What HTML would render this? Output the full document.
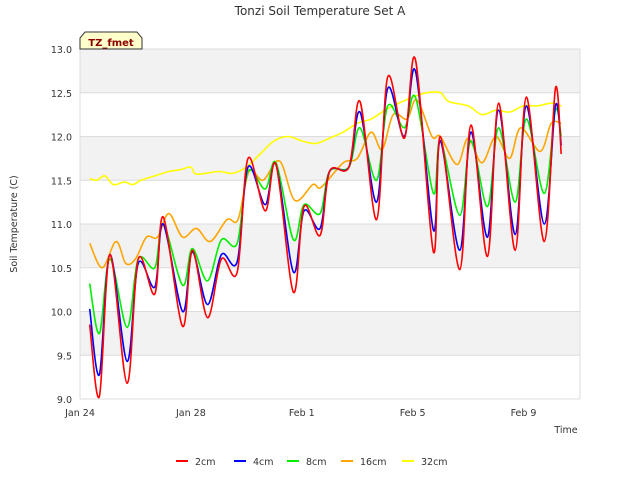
<!DOCTYPE html>
<html><head><meta charset="utf-8"><style>
body{margin:0;background:#fff;}
svg{display:block;font-family:"DejaVu Sans","Liberation Sans",sans-serif;}
</style></head><body>
<svg id="chart" width="640" height="480" viewBox="0 0 640 480">
<text x="320" y="15" text-anchor="middle" font-size="12" fill="#333">Tonzi Soil Temperature Set A</text>
<g id="bands"></g><g id="grid"></g><g id="ticks"></g><g id="lines"></g>
<path d="M80,49 L80,38 L85,32 L137,32 L142,38 L142,49 Z" fill="#ffffcc" stroke="#333" stroke-width="1"/>
<text x="111" y="46" text-anchor="middle" font-size="10" font-weight="bold" fill="#8b0000">TZ_fmet</text>
<text x="17" y="224" text-anchor="middle" font-size="9.5" fill="#333" transform="rotate(-90 17 224)">Soil Temperature (C)</text>
<text x="566" y="433" text-anchor="middle" font-size="9.5" fill="#333">Time</text>
<g id="legend"></g>
</svg>
<script>
const yTicks=[9.0,9.5,10.0,10.5,11.0,11.5,12.0,12.5,13.0];
const xTickDays=[0,4,8,12,16];
const xTickLabels=["Jan 24","Jan 28","Feb 1","Feb 5","Feb 9"];
const seriesNames=["2cm","4cm","8cm","16cm","32cm"];
const seriesColors=["#ff0000","#0000ff","#00ee00","#ffa500","#ffff00"];
const tShallow=[0.35,0.7,1.08,1.7,2.1,2.7,3.0,3.7,4.05,4.6,5.1,5.67,6.06,6.68,7.07,7.7,8.08,8.66,9.0,9.7,10.1,10.7,11.1,11.7,12.1,12.75,13.0,13.7,14.1,14.7,15.1,15.7,16.1,16.75,17.15,17.36];
const v2cm=[9.85,9.03,10.65,9.18,10.6,10.2,11.08,9.83,10.7,9.93,10.6,10.45,11.75,11.15,11.68,10.22,11.2,10.87,11.6,11.65,12.4,11.05,12.68,11.98,12.88,10.68,12.0,10.48,12.13,10.63,12.38,10.7,12.45,10.8,12.55,11.8];
const v4cm=[10.03,9.28,10.65,9.43,10.55,10.28,11.0,10.0,10.68,10.08,10.65,10.57,11.65,11.22,11.68,10.45,11.15,10.95,11.6,11.65,12.28,11.25,12.55,12.0,12.75,10.93,11.95,10.7,12.05,10.85,12.3,10.88,12.35,11.0,12.35,11.9];
const v8cm=[10.32,9.75,10.6,9.82,10.6,10.5,11.0,10.3,10.72,10.35,10.82,10.78,11.6,11.4,11.7,10.82,11.22,11.12,11.6,11.65,12.1,11.5,12.35,12.1,12.45,11.35,11.95,11.1,11.95,11.2,12.1,11.25,12.2,11.35,12.3,12.0];
const t16=[0.35,0.8,1.3,1.65,2.0,2.4,2.8,3.2,3.7,4.2,4.7,5.3,5.7,6.1,6.6,7.2,7.75,8.4,8.7,9.5,10.0,10.5,10.9,11.3,11.8,12.15,12.7,13.0,13.6,14.0,14.5,15.0,15.5,15.9,16.6,17.0,17.36];
const v16cm=[10.78,10.5,10.8,10.55,10.6,10.85,10.85,11.12,10.85,10.95,10.8,11.05,11.05,11.6,11.5,11.72,11.27,11.45,11.42,11.7,11.75,12.05,11.85,12.25,12.2,12.42,12.0,12.0,11.68,11.98,11.7,12.0,11.75,12.1,11.83,12.15,12.15];
const t32=[0.35,0.6,0.9,1.2,1.6,1.9,2.2,2.7,3.2,3.6,4.0,4.2,5.0,5.5,6.0,6.5,7.0,7.5,8.0,8.5,9.0,9.5,10.0,10.5,11.0,11.5,12.0,12.5,13.0,13.3,14.0,14.5,15.0,15.5,16.0,16.5,17.0,17.36];
const v32cm=[11.52,11.5,11.55,11.45,11.48,11.45,11.5,11.55,11.6,11.62,11.65,11.57,11.6,11.58,11.65,11.8,11.95,12.0,11.95,11.92,11.98,12.05,12.15,12.2,12.3,12.38,12.45,12.5,12.5,12.4,12.35,12.25,12.3,12.28,12.35,12.35,12.38,12.35];

const X0=80,X1=580,Y0=399,Y1=49;
const xs=d=>X0+d*27.72;
const ys=v=>Y0-(v-9)*(Y0-Y1)/4;
const NS="http://www.w3.org/2000/svg";
function mk(tag,attrs,parent){const e=document.createElementNS(NS,tag);for(const k in attrs)e.setAttribute(k,attrs[k]);parent.appendChild(e);return e;}
const bands=document.getElementById('bands');
mk('rect',{x:X0,y:Y1,width:X1-X0,height:Y0-Y1,fill:'#fff'},bands);
for(let i=0;i<yTicks.length-1;i++){
  if(i%2===1){const r=mk('rect',{x:X0,y:ys(yTicks[i+1]),width:X1-X0,height:ys(yTicks[i])-ys(yTicks[i+1]),fill:'#f2f2f2'},bands);
  
  }
}
const grid=document.getElementById('grid');
yTicks.forEach(v=>{mk('line',{x1:X0,x2:X1,y1:ys(v),y2:ys(v),stroke:'#dcdcdc','stroke-width':1},grid);});
mk('line',{x1:X0,x2:X0,y1:Y1,y2:Y0,stroke:'#dcdcdc'},grid);
mk('line',{x1:X1,x2:X1,y1:Y1,y2:Y0,stroke:'#dcdcdc'},grid);
const ticks=document.getElementById('ticks');
yTicks.forEach(v=>{const t=mk('text',{x:72,y:ys(v)+4,'text-anchor':'end','font-size':9.5,fill:'#333'},ticks);t.textContent=v.toFixed(1);

});
xTickDays.forEach((d,i)=>{const t=mk('text',{x:xs(d),y:416,'text-anchor':'middle','font-size':9.5,fill:'#333'},ticks);t.textContent=xTickLabels[i];

});
function pathFor(T,V){
  const P=T.map((t,i)=>[xs(t),ys(V[i])]);
  let d='M'+P[0][0].toFixed(1)+','+P[0][1].toFixed(1);
  for(let i=0;i<P.length-1;i++){
    const p0=P[Math.max(0,i-1)],p1=P[i],p2=P[i+1],p3=P[Math.min(P.length-1,i+2)];
    const c1=[p1[0]+(p2[0]-p0[0])/6,p1[1]+(p2[1]-p0[1])/6];
    const c2=[p2[0]-(p3[0]-p1[0])/6,p2[1]-(p3[1]-p1[1])/6];
    d+=` C${c1[0].toFixed(1)},${c1[1].toFixed(1)} ${c2[0].toFixed(1)},${c2[1].toFixed(1)} ${p2[0].toFixed(1)},${p2[1].toFixed(1)}`;
  }
  return d;
}
const lines=document.getElementById('lines');
const sets=[[t32,v32cm,4],[t16,v16cm,3],[tShallow,v8cm,2],[tShallow,v4cm,1],[tShallow,v2cm,0]];
sets.forEach(([T,V,k])=>{
  const p=mk('path',{d:pathFor(T,V),fill:'none',stroke:seriesColors[k],'stroke-width':1.6,'stroke-linejoin':'round'},lines);
  
  
});
const legend=document.getElementById('legend');
const lx=[176,234,287,341,402];
seriesNames.forEach((n,i)=>{
  const g=mk('g',{},legend);
  
  
  mk('line',{x1:lx[i],x2:lx[i]+12,y1:461,y2:461,stroke:seriesColors[i],'stroke-width':2},g);
  const t=mk('text',{x:lx[i]+19,y:465,'font-size':9.5,fill:'#333'},g);t.textContent=n;
});
</script>
</body></html>
